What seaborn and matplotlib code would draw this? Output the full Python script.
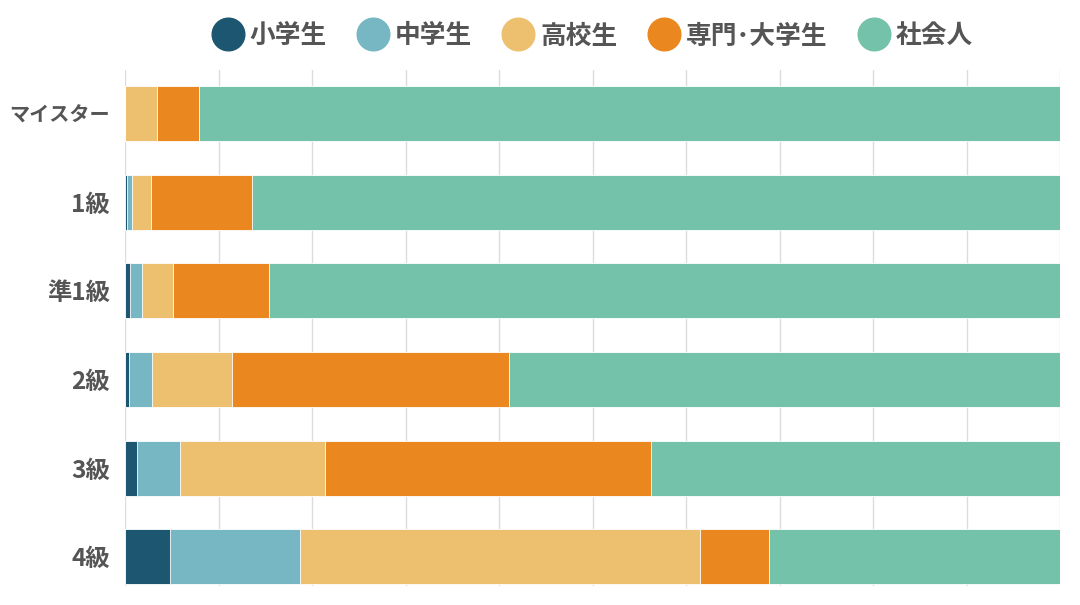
import matplotlib
matplotlib.use("Agg")
import matplotlib.pyplot as plt
from matplotlib.lines import Line2D
import seaborn as sns
import pandas as pd
import numpy as np

categories = ["マイスター", "1級", "準1級", "2級", "3級", "4級"]
series_names = ["小学生", "中学生", "高校生", "専門･大学生", "社会人"]
elementary = [0.0, 0.18, 0.53, 0.45, 1.26, 4.79]
junior_high = [0.0, 0.57, 1.32, 2.44, 4.58, 13.95]
high_school = [3.39, 2.0, 3.25, 8.55, 15.52, 42.73]
college = [4.56, 10.83, 10.33, 29.65, 34.9, 7.4]
working = [92.05, 86.42, 84.57, 58.91, 43.74, 31.13]
colors = ["#1d5670", "#76b7c3", "#ecc06f", "#ea881f", "#74c2a9"]

sns.set_theme(style="white")
plt.rcParams["font.family"] = ["Noto Sans CJK JP", "DejaVu Sans"]

values = np.array([elementary, junior_high, high_school, college, working])
cum = np.cumsum(values, axis=0)

fig = plt.figure(figsize=(10.8, 6.05), dpi=100)
ax = fig.add_axes([125 / 1080, 1 - 586 / 605, 935 / 1080, 516 / 605])

for i in range(len(series_names) - 1, -1, -1):
    df = pd.DataFrame({"cat": categories, "val": cum[i]})
    sns.barplot(data=df, x="val", y="cat", orient="h", color=colors[i],
                width=0.62, edgecolor="white", linewidth=0.6, ax=ax,
                saturation=1, zorder=3)

ax.set_xlim(0, 100)
ax.set_ylim(5.33, -0.49)
ax.set_xticks(np.arange(0, 101, 10))
ax.xaxis.grid(True, color="#dcdcdc", linewidth=1, zorder=0)
ax.set_axisbelow(True)
ax.tick_params(axis="x", bottom=False, labelbottom=False)
ax.tick_params(axis="y", left=False, pad=5)
for lab in ax.get_yticklabels():
    lab.set_fontsize(14.5 if lab.get_text() == "マイスター" else 17.5)
    lab.set_fontweight("bold")
    lab.set_color("#555555")
ax.set_xlabel("")
ax.set_ylabel("")
for s in ax.spines.values():
    s.set_visible(False)

handles = [Line2D([0], [0], marker="o", linestyle="", markersize=23.5,
                  markerfacecolor=c, markeredgecolor=c) for c in colors]
leg = ax.legend(handles, series_names, loc="lower center", bbox_to_anchor=(0.5, 1.02),
                ncol=5, frameon=False, handletextpad=0.25, columnspacing=1.2,
                handlelength=1.2, borderaxespad=0,
                prop={"size": 18.5, "weight": "bold"})
for t in leg.get_texts():
    t.set_color("#555555")

fig.savefig("out.png", dpi=100)
